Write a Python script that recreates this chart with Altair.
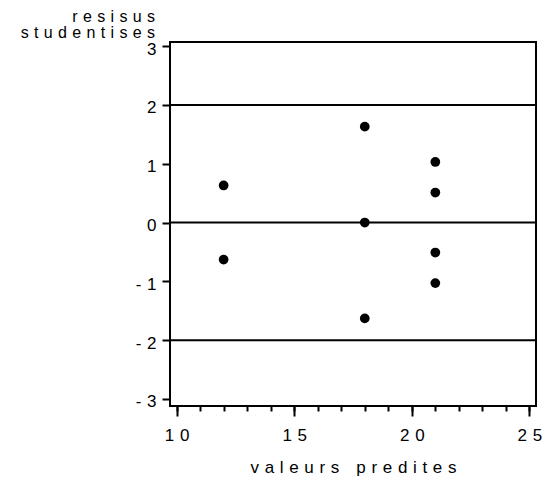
import altair as alt
import pandas as pd

# ---- data ----
x_pred = [12, 12, 18, 18, 18, 21, 21, 21, 21]
resid = [0.63, -0.63, 1.63, 0.0, -1.63, 1.03, 0.51, -0.51, -1.03]
ref_levels = [-2, 0, 2]
x_major = [10, 15, 20, 25]
x_minor = list(range(10, 26))
y_ticks = [-3, -2, -1, 0, 1, 2, 3]
x_title_words = ["valeurs", "predites"]
y_title_lines = ["resisus", "studentises"]

SP = "\u2004"


def spaced(w):
    return SP.join(w)


x_title = (SP * 3).join(spaced(w) for w in x_title_words)
y_title = [spaced(w) for w in y_title_lines]

FONT = "Liberation Sans"
FS = 17
label_expr = "join(split('' + datum.value, ''), '" + SP + "')"

df = pd.DataFrame({"x": x_pred, "y": resid})
ref_df = pd.DataFrame({"y": ref_levels})

xscale = alt.Scale(domain=[9.72, 25.28], nice=False, zero=False)
yscale = alt.Scale(domain=[-3.12, 3.07], nice=False, zero=False)

y_axis = alt.Axis(
    values=y_ticks, domain=False, grid=False, tickSize=8, tickWidth=2,
    tickColor="black", labelExpr=label_expr, labelFont=FONT, labelFontSize=FS,
    labelColor="black", labelPadding=6, labelAlign="right", labelBaseline="middle",
    labelOffset=3, labelFlush=False, labelOverlap=False,
    title=y_title, titleAngle=0, titleX=-15.5, titleY=-21, titleAlign="right",
    titleBaseline="alphabetic", titleFont=FONT, titleFontSize=16,
    titleFontWeight="normal", titleLineHeight=16, titleColor="black",
)

x_axis_major = alt.Axis(
    values=x_major, orient="bottom", domain=False, grid=False, tickSize=10,
    tickWidth=2, tickColor="black", labelExpr=label_expr, labelFont=FONT,
    labelFontSize=FS, labelColor="black", labelPadding=11, labelFlush=False,
    labelOverlap=False, title=x_title, titleFont=FONT, titleFontSize=FS,
    titleFontWeight="normal", titleColor="black", titleX=183, titleY=66,
    titleAlign="center", titleBaseline="alphabetic",
)

x_axis_minor = alt.Axis(
    values=x_minor, orient="bottom", domain=False, grid=False, tickSize=5,
    tickWidth=2, tickColor="black", labels=False, title="",
)

minor = alt.Chart(df).mark_point(opacity=0).encode(
    x=alt.X("x:Q", scale=xscale, axis=x_axis_minor),
    y=alt.Y("y:Q", scale=yscale, axis=y_axis),
)

rules = alt.Chart(ref_df).mark_rule(color="black", strokeWidth=2).encode(
    y=alt.Y("y:Q", scale=yscale, axis=y_axis),
)

points = alt.Chart(df).mark_circle(size=95, color="black", opacity=1).encode(
    x=alt.X("x:Q", scale=xscale, axis=x_axis_major),
    y=alt.Y("y:Q", scale=yscale, axis=y_axis),
)

chart = (
    alt.layer(minor, rules, points)
    .resolve_axis(x="independent")
    .properties(
        width=366,
        height=364,
        padding={"left": 170, "top": 42, "right": 6, "bottom": 75},
        autosize=alt.AutoSizeParams(type="none"),
        background="white",
    )
    .configure_view(stroke="black", strokeWidth=2)
)

chart.save("out.html", embed_options={"renderer": "svg", "actions": False})
